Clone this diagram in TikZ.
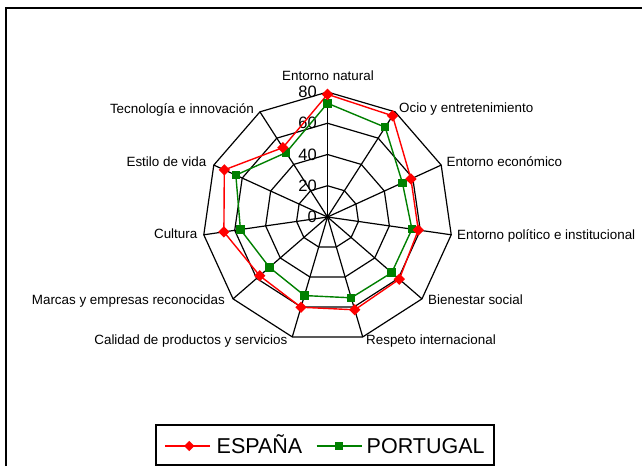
\documentclass[tikz,border=0pt]{standalone}
\usepackage{fontspec}
\setmainfont{Liberation Sans}
\usetikzlibrary{shapes.geometric}
\definecolor{esred}{RGB}{255,0,0}
\definecolor{ptgreen}{RGB}{0,128,0}
\begin{document}
\begin{tikzpicture}[x=1pt,y=-1pt,
  gridline/.style={draw=black,line width=1.2pt,line join=miter},
  frameline/.style={draw=black,line width=1.6pt},
  axlbl/.style={font=\fontsize{13.4}{13.4}\selectfont,inner sep=0pt},
  ticklbl/.style={font=\fontsize{16.5}{16.5}\selectfont,inner sep=0pt,anchor=east},
  esline/.style={draw=esred,line width=1.4pt,line join=round},
  ptline/.style={draw=ptgreen,line width=1.4pt,line join=round},
  esmark/.style={diamond,fill=esred,inner sep=0pt,minimum size=11.5pt},
  ptmark/.style={rectangle,fill=ptgreen,inner sep=0pt,minimum size=8.5pt},
  legtext/.style={font=\fontsize{21.5}{21.5}\selectfont,inner sep=0pt,anchor=base west}]
\useasboundingbox (0,0) rectangle (642,466);
\fill[white] (0,0) rectangle (642,466);
\def\cx{327.5}\def\cy{217}\def\R{125}
% outer frame
\draw[frameline] (6,466) -- (6,8) -- (642,8);
% centre and spoke ends
\coordinate (C) at (\cx,\cy);
\foreach \k in {0,...,10}{
  \coordinate (o\k) at ({\cx+\R*sin(\k*360/11)},{\cy-\R*cos(\k*360/11)});
  \draw[gridline] (C) -- (o\k);
}
% rings
\foreach \j in {1,2,3,4}{
  \draw[gridline] ({\cx},{\cy-\R*\j/4})
    \foreach \k in {1,...,10}{ -- ({\cx+\R*\j/4*sin(\k*360/11)},{\cy-\R*\j/4*cos(\k*360/11)}) } -- cycle;
}
% tick labels
\node[ticklbl] (t0) at (317,\cy) {0};
\node[ticklbl] (t20) at (317,{\cy-\R/4}) {20};
\node[ticklbl] (t40) at (317,{\cy-\R/2}) {40};
\node[ticklbl] (t60) at (317,{\cy-3*\R/4}) {60};
\node[ticklbl] (t80) at (317,{\cy-\R}) {80};
% data
\foreach \v [count=\i from 0] in {78.5,77,58.7,58.7,60.8,61.9,60.2,57.4,67,72.6,52.8}{
  \coordinate (s\i) at ({\cx+\R*\v/80*sin(\i*360/11)},{\cy-\R*\v/80*cos(\i*360/11)});
}
\foreach \v [count=\i from 0] in {72.8,68.3,52.7,54.6,54.4,53.9,52.4,49.2,56.3,64.5,49}{
  \coordinate (p\i) at ({\cx+\R*\v/80*sin(\i*360/11)},{\cy-\R*\v/80*cos(\i*360/11)});
}
\draw[ptline] (p0) -- (p1) -- (p2) -- (p3) -- (p4) -- (p5) -- (p6) -- (p7) -- (p8) -- (p9) -- (p10) -- cycle;
\draw[esline] (s0) -- (s1) -- (s2) -- (s3) -- (s4) -- (s5) -- (s6) -- (s7) -- (s8) -- (s9) -- (s10) -- cycle;
\foreach \i in {0,...,10}{
  \node[ptmark] (pm\i) at (p\i) {};
  \node[esmark] (sm\i) at (s\i) {};
}
% axis labels
\node[axlbl,anchor=base] (l0) at (328,80.3) {Entorno natural};
\node[axlbl,anchor=base west] (l1) at (399,112.2) {Ocio y entretenimiento};
\node[axlbl,anchor=base west] (l2) at (446.5,166.5) {Entorno económico};
\node[axlbl,anchor=base west] (l3) at (457,239) {Entorno político e institucional};
\node[axlbl,anchor=base west] (l4) at (428,304.8) {Bienestar social};
\node[axlbl,anchor=base west] (l5) at (366,344.8) {Respeto internacional};
\node[axlbl,anchor=base east] (l6) at (287.5,344.8) {Calidad de productos y servicios};
\node[axlbl,anchor=base east] (l7) at (225,304.8) {Marcas y empresas reconocidas};
\node[axlbl,anchor=base east] (l8) at (197.5,238.3) {Cultura};
\node[axlbl,anchor=base east] (l9) at (206.5,166.5) {Estilo de vida};
\node[axlbl,anchor=base east] (l10) at (254,113.1) {Tecnología e innovación};
% legend
\node[draw=black,line width=1.2pt,minimum width=338pt,minimum height=40pt,inner sep=0pt] (leg) at (325,445) {};
\coordinate (ea) at (165,446);
\coordinate (eb) at (210,446);
\draw[draw=esred,line width=1.4pt] (ea) -- (eb);
\node[esmark,minimum size=10.5pt] (lem) at (189.3,446) {};
\node[legtext] (let) at (216.5,453) {ESPAÑA};
\coordinate (pa) at (316.5,446);
\coordinate (pb) at (361.5,446);
\draw[draw=ptgreen,line width=1.4pt] (pa) -- (pb);
\node[ptmark,minimum size=8pt] (lpm) at (338.5,446) {};
\node[legtext] (lpt) at (366.5,453) {PORTUGAL};
\end{tikzpicture}
\end{document}
